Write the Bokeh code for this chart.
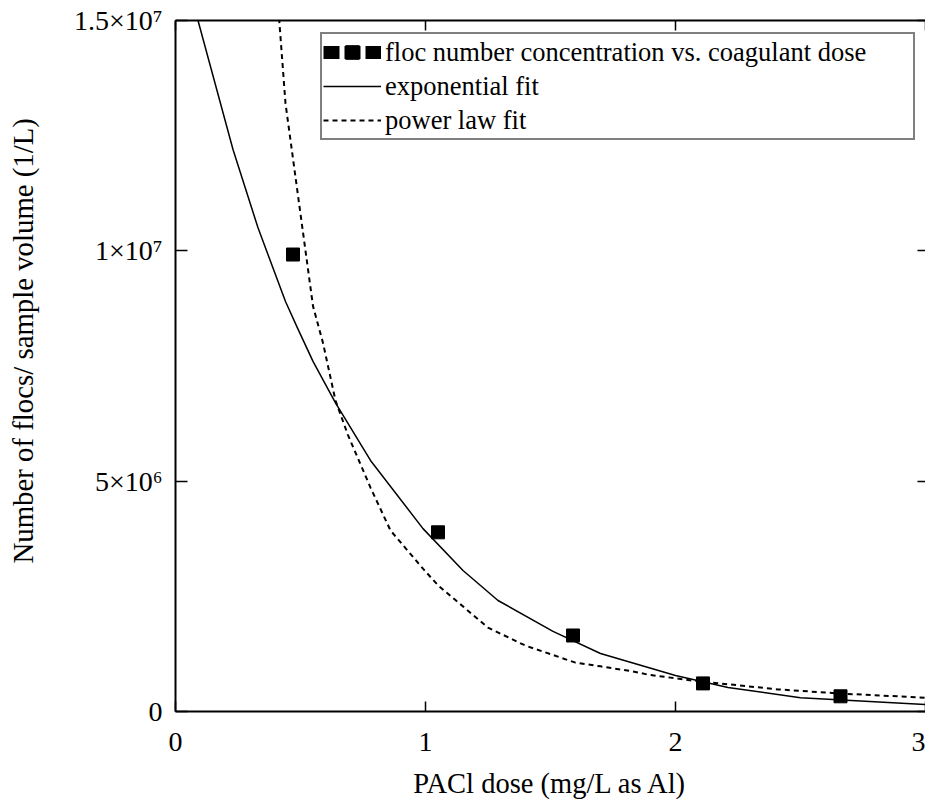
from bokeh.plotting import figure
from bokeh.models import (Range1d, LinearAxis, FixedTicker, Legend, LegendItem, Title)
from bokeh.embed import file_html
from bokeh.resources import INLINE

# ---- data ----
dose = [0.47, 1.05, 1.59, 2.11, 2.66]
flocs = [9.92e6, 3.89e6, 1.65e6, 0.61e6, 0.33e6]

exp_x = [0.0, 0.09, 0.23, 0.33, 0.44, 0.49, 0.55, 0.64, 0.78, 0.99, 1.15, 1.29,
         1.51, 1.70, 2.00, 2.21, 2.50, 3.00]
exp_y = [16.7e6, 15.0e6, 12.2e6, 10.5e6, 8.9e6, 8.3e6, 7.6e6, 6.7e6, 5.45e6,
         3.97e6, 3.06e6, 2.41e6, 1.74e6, 1.26e6, 0.78e6, 0.52e6, 0.30e6, 0.15e6]

pow_x = [0.39, 0.415, 0.44, 0.50, 0.55, 0.59, 0.64, 0.69, 0.78, 0.86, 0.99, 1.05,
         1.25, 1.40, 1.60, 1.70, 1.83, 1.89, 2.07, 2.41, 2.66, 3.00]
pow_y = [17.0e6, 15.0e6, 13.2e6, 10.8e6, 8.8e6, 8.0e6, 6.75e6, 6.0e6, 4.86e6,
         3.93e6, 3.10e6, 2.74e6, 1.82e6, 1.43e6, 1.06e6, 0.98e6, 0.87e6, 0.80e6,
         0.67e6, 0.48e6, 0.39e6, 0.30e6]

x_ticks = [0, 1, 2, 3]
y_ticks = [0, 5000000, 10000000, 15000000]
y_tick_labels = ["0", "5×10⁶", "1×10⁷", "1.5×10⁷"]
legend_labels = ["floc number concentration vs. coagulant dose",
                 "exponential fit", "power law fit"]
x_label = "PACl dose (mg/L as Al)"
y_label = "Number of flocs/ sample volume (1/L)"

FONT = "Liberation Serif"

p = figure(width=925, height=803, output_backend="svg", toolbar_location=None,
           x_range=Range1d(0, 3), y_range=Range1d(0, 1.5e7),
           x_axis_label=x_label,
           min_border_left=175, min_border_right=0, min_border_top=20,
           min_border_bottom=92)
p.grid.visible = False
p.outline_line_color = None
p.background_fill_color = "white"
p.border_fill_color = "white"

xa = p.xaxis[0]
ya = p.yaxis[0]
xa.ticker = FixedTicker(ticks=x_ticks)
ya.ticker = FixedTicker(ticks=y_ticks)
ya.major_label_overrides = dict(zip(y_ticks, y_tick_labels))
for ax in (xa, ya):
    ax.axis_line_width = 2
    ax.axis_line_color = "black"
    ax.major_tick_out = 0
    ax.major_tick_line_width = 1.5
    ax.major_tick_line_color = "black"
    ax.minor_tick_line_color = None
    ax.major_label_text_font = FONT
    ax.major_label_text_font_size = "28px"
    ax.major_label_text_color = "black"
    ax.axis_label_text_font = FONT
    ax.axis_label_text_font_size = "28.5px"
    ax.axis_label_text_font_style = "normal"
    ax.axis_label_text_color = "black"
xa.major_tick_in = 10
ya.major_tick_in = 12
xa.major_label_standoff = 21
xa.axis_label_standoff = 14
ya.major_label_standoff = 13

top = LinearAxis(ticker=FixedTicker(ticks=x_ticks),
                 major_label_overrides={t: "" for t in x_ticks},
                 major_label_text_font_size="1px",
                 major_label_standoff=0, major_tick_in=10, major_tick_out=0,
                 major_tick_line_width=1.5, minor_tick_line_color=None,
                 axis_line_width=2, axis_line_color="black")
p.add_layout(top, "above")
right = LinearAxis(ticker=FixedTicker(ticks=y_ticks),
                   major_label_overrides={t: "" for t in y_ticks},
                   major_label_text_font_size="1px",
                   major_label_standoff=0, major_tick_in=8, major_tick_out=0,
                   major_tick_line_width=1.5, minor_tick_line_color=None,
                   axis_line_color=None)
p.add_layout(right, "right")

# invisible spacer on the left so that the y title sits at the far left
spacer = LinearAxis(ticker=FixedTicker(ticks=y_ticks),
                    major_label_overrides={t: "" for t in y_ticks},
                    major_label_text_font_size="1px",
                    major_label_standoff=0, major_tick_in=0, major_tick_out=26,
                    major_tick_line_color=None, minor_tick_line_color=None,
                    axis_line_color=None)
p.add_layout(spacer, "left")

# y axis title, a little above the frame centre as in the reference
ytitle = Title(text=y_label, align="left", vertical_align="middle", offset=148,
               text_font=FONT, text_font_size="28.8px", text_font_style="normal",
               text_color="black")
p.add_layout(ytitle, "left")

pts = p.scatter(dose, flocs, marker="square", size=13, color="black")
exp_r = p.line(exp_x, exp_y, line_color="black", line_width=1.5)
pow_r = p.line(pow_x, pow_y, line_color="black", line_width=2, line_dash="5 4")
# legend key for the points: three squares (hidden renderer on the same data)
key_r = p.line(dose, flocs, line_color="black", line_width=13,
               line_dash="16 5", visible=False)

legend = Legend(items=[LegendItem(label=legend_labels[0], renderers=[pts, key_r]),
                       LegendItem(label=legend_labels[1], renderers=[exp_r]),
                       LegendItem(label=legend_labels[2], renderers=[pow_r])],
                location=(145, 571))
legend.label_text_font = FONT
legend.label_text_font_size = "26.5px"
legend.label_text_color = "black"
legend.glyph_width = 58
legend.glyph_height = 34
legend.label_height = 34
legend.label_width = 527
legend.label_standoff = 4
legend.spacing = 0
legend.padding = 1
legend.margin = 0
legend.border_line_color = "black"
legend.border_line_width = 2
legend.background_fill_alpha = 1
p.add_layout(legend)

open("out.html", "w").write(file_html(p, INLINE))
